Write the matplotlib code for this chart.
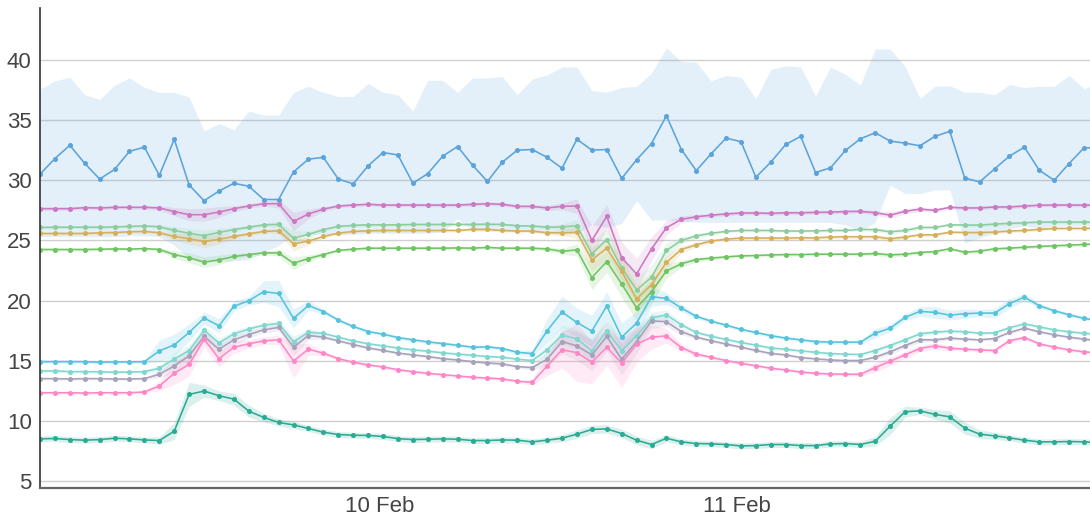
import numpy as np
import pandas as pd
import matplotlib
matplotlib.use("Agg")
import matplotlib.pyplot as plt
import matplotlib.dates as mdates

plt.rcParams['font.family'] = ['Liberation Sans', 'DejaVu Sans']

# hourly timestamps
times = pd.date_range("2024-02-09 01:15", periods=72, freq="h")

blue = [30.5, 31.8, 32.9, 31.4, 30.1, 30.9, 32.4, 32.75, 30.4, 33.4,
        29.6, 28.3, 29.1, 29.75, 29.5, 28.4, 28.4, 30.7, 31.75, 31.9,
        30.1, 29.7, 31.2, 32.3, 32.1, 29.75, 30.55, 32.0, 32.8, 31.25,
        29.9, 31.5, 32.5, 32.55, 31.9, 31.0, 33.4, 32.5, 32.55, 30.15,
        31.7, 33.05, 35.35, 32.55, 30.8, 32.2, 33.5, 33.2, 30.25, 31.5,
        32.97, 33.64, 30.64, 31.03, 32.47, 33.44, 33.94, 33.25, 33.08, 32.86,
        33.64, 34.06, 30.19, 29.86, 30.94, 32.0, 32.75, 30.83, 30.0, 31.39,
        32.69, 32.7]
blue_hi = [37.6, 38.25, 38.55, 37.1, 36.7, 37.9, 38.5, 37.7, 37.3, 37.3,
           36.9, 34.1, 34.7, 34.2, 35.75, 35.4, 35.4, 37.3, 37.8, 37.3,
           36.95, 36.95, 38.05, 37.3, 37.1, 35.75, 38.3, 38.3, 37.3, 38.5,
           38.5, 38.6, 37.1, 38.4, 38.75, 39.4, 39.4, 37.45, 37.3, 37.7,
           37.8, 38.9, 41.0, 39.85, 39.8, 38.25, 38.7, 38.55, 36.75, 39.2,
           39.5, 39.4, 37.0, 39.4, 38.8, 37.9, 40.9, 40.9, 39.45, 36.8,
           37.8, 37.85, 37.3, 37.3, 37.1, 37.95, 37.7, 37.8, 37.8, 38.7,
           37.6, 38.05]
blue_lo = [25.3, 25.3, 25.3, 25.3, 25.3, 25.3, 25.4, 25.4, 25.3, 24.6,
           23.5, 23.2, 23.3, 23.3, 23.4, 24.0, 24.6, 25.4, 25.5, 25.5,
           25.5, 25.5, 25.6, 25.6, 25.6, 25.6, 25.6, 25.7, 26.8, 25.8,
           25.8, 25.8, 25.8, 25.7, 25.6, 25.5, 25.6, 26.3, 26.1, 26.4,
           28.3, 26.7, 26.7, 26.6, 26.5, 26.5, 26.5, 26.5, 26.5, 26.5,
           26.5, 26.5, 26.5, 26.5, 26.3, 25.8, 26.5, 29.6, 28.9, 28.9,
           29.2, 29.2, 24.8, 25.2, 25.6, 26.0, 26.2, 26.0, 26.2, 26.2,
           26.2, 26.2]

magenta = [27.64, 27.64, 27.64, 27.72, 27.7, 27.75, 27.75, 27.75, 27.7, 27.4,
           27.14, 27.14, 27.36, 27.64, 27.86, 28.05, 28.05, 26.58, 27.2, 27.6,
           27.86, 27.94, 28.0, 27.94, 27.94, 27.94, 27.94, 27.94, 27.94, 28.0,
           28.05, 28.0, 27.83, 27.83, 27.7, 27.83, 27.86, 25.0, 27.0, 23.56,
           22.22, 24.3, 26.06, 26.75, 26.97, 27.1, 27.2, 27.28, 27.28, 27.25,
           27.3, 27.3, 27.33, 27.35, 27.4, 27.42, 27.3, 27.1, 27.42, 27.6,
           27.5, 27.75, 27.7, 27.7, 27.78, 27.78, 27.86, 27.92, 27.94, 27.94,
           27.94, 27.94]
magenta_sp = [0.15, 0.15, 0.15, 0.15, 0.15, 0.15, 0.15, 0.15, 0.2, 0.35,
              0.5, 0.55, 0.45, 0.25, 0.2, 0.2, 0.35, 0.8, 0.4, 0.2,
              0.15, 0.15, 0.15, 0.15, 0.15, 0.15, 0.15, 0.15, 0.15, 0.15,
              0.15, 0.15, 0.15, 0.15, 0.2, 0.3, 0.6, 1.2, 1.0, 1.3,
              1.3, 1.0, 0.6, 0.3, 0.2, 0.15, 0.15, 0.15, 0.15, 0.15,
              0.15, 0.15, 0.15, 0.15, 0.15, 0.15, 0.2, 0.25, 0.2, 0.2,
              0.15, 0.15, 0.15, 0.15, 0.15, 0.15, 0.15, 0.15, 0.15, 0.15,
              0.15, 0.15]

lgreen = [26.08, 26.1, 26.1, 26.1, 26.1, 26.12, 26.17, 26.2, 26.14, 25.83,
          25.6, 25.4, 25.67, 25.9, 26.1, 26.3, 26.33, 25.2, 25.5, 25.9,
          26.17, 26.25, 26.3, 26.3, 26.3, 26.33, 26.33, 26.33, 26.33, 26.33,
          26.35, 26.33, 26.22, 26.2, 26.1, 26.12, 26.22, 23.89, 25.08, 22.72,
          20.89, 21.94, 24.17, 25.0, 25.38, 25.6, 25.75, 25.83, 25.83, 25.83,
          25.78, 25.78, 25.8, 25.83, 25.83, 25.92, 25.9, 25.72, 25.83, 26.08,
          26.08, 26.3, 26.28, 26.28, 26.36, 26.42, 26.47, 26.53, 26.53, 26.53,
          26.53, 26.53]
lgreen_sp = [0.12, 0.12, 0.12, 0.12, 0.12, 0.12, 0.12, 0.12, 0.15, 0.3,
             0.4, 0.45, 0.35, 0.2, 0.15, 0.15, 0.25, 0.6, 0.3, 0.15,
             0.12, 0.12, 0.12, 0.12, 0.12, 0.12, 0.12, 0.12, 0.12, 0.12,
             0.12, 0.12, 0.12, 0.12, 0.15, 0.25, 0.5, 1.0, 0.9, 1.1,
             1.1, 1.0, 0.6, 0.3, 0.2, 0.15, 0.12, 0.12, 0.12, 0.12,
             0.12, 0.12, 0.12, 0.12, 0.12, 0.12, 0.15, 0.2, 0.15, 0.15,
             0.12, 0.12, 0.12, 0.12, 0.12, 0.12, 0.12, 0.12, 0.12, 0.12,
             0.12, 0.12]

tan = [25.58, 25.58, 25.58, 25.58, 25.64, 25.66, 25.72, 25.75, 25.64, 25.33,
       25.14, 24.9, 25.1, 25.33, 25.55, 25.75, 25.8, 24.72, 24.94, 25.33,
       25.61, 25.75, 25.8, 25.83, 25.83, 25.83, 25.83, 25.83, 25.83, 25.92,
       25.92, 25.83, 25.78, 25.78, 25.64, 25.64, 25.67, 23.39, 24.36, 22.44,
       20.14, 21.33, 23.19, 24.25, 24.64, 24.95, 25.11, 25.2, 25.2, 25.2,
       25.2, 25.22, 25.22, 25.28, 25.31, 25.31, 25.31, 25.14, 25.28, 25.47,
       25.47, 25.69, 25.66, 25.66, 25.69, 25.78, 25.83, 25.92, 26.0, 26.0,
       26.0, 26.03]
tan_sp = [0.12, 0.12, 0.12, 0.12, 0.12, 0.12, 0.12, 0.12, 0.15, 0.3,
          0.45, 0.5, 0.4, 0.2, 0.15, 0.15, 0.25, 0.6, 0.3, 0.15,
          0.12, 0.12, 0.12, 0.12, 0.12, 0.12, 0.12, 0.12, 0.12, 0.12,
          0.12, 0.12, 0.12, 0.12, 0.15, 0.25, 0.5, 1.0, 0.9, 1.1,
          1.1, 1.0, 0.6, 0.3, 0.2, 0.15, 0.12, 0.12, 0.12, 0.12,
          0.12, 0.12, 0.12, 0.12, 0.12, 0.12, 0.15, 0.2, 0.15, 0.15,
          0.12, 0.12, 0.12, 0.12, 0.12, 0.12, 0.12, 0.12, 0.12, 0.12,
          0.12, 0.12]

green = [24.25, 24.25, 24.25, 24.25, 24.27, 24.3, 24.28, 24.33, 24.25, 23.83,
         23.56, 23.2, 23.39, 23.67, 23.83, 23.97, 23.97, 23.11, 23.5, 23.83,
         24.17, 24.28, 24.36, 24.36, 24.36, 24.36, 24.36, 24.36, 24.38, 24.36,
         24.42, 24.36, 24.36, 24.36, 24.3, 24.1, 24.22, 21.92, 23.25, 21.39,
         19.42, 20.75, 22.47, 23.06, 23.42, 23.53, 23.64, 23.72, 23.75, 23.8,
         23.83, 23.83, 23.86, 23.86, 23.86, 23.86, 23.92, 23.8, 23.86, 24.0,
         24.08, 24.31, 24.03, 24.11, 24.31, 24.36, 24.44, 24.5, 24.56, 24.61,
         24.67, 24.72]
green_sp = [0.12, 0.12, 0.12, 0.12, 0.12, 0.12, 0.12, 0.12, 0.15, 0.3,
            0.4, 0.45, 0.4, 0.25, 0.15, 0.15, 0.25, 0.5, 0.3, 0.15,
            0.12, 0.12, 0.12, 0.12, 0.12, 0.12, 0.12, 0.12, 0.12, 0.12,
            0.12, 0.12, 0.12, 0.12, 0.15, 0.25, 0.5, 1.0, 0.9, 1.1,
            1.1, 1.0, 0.6, 0.3, 0.2, 0.15, 0.12, 0.12, 0.12, 0.12,
            0.12, 0.12, 0.12, 0.12, 0.12, 0.12, 0.15, 0.2, 0.15, 0.15,
            0.12, 0.15, 0.12, 0.12, 0.12, 0.12, 0.12, 0.12, 0.12, 0.12,
            0.12, 0.12]

cyan = [14.94, 14.94, 14.94, 14.94, 14.89, 14.92, 14.92, 14.94, 15.83, 16.33,
        17.36, 18.56, 17.92, 19.53, 20.0, 20.75, 20.6, 18.53, 19.61, 19.1,
        18.39, 17.86, 17.44, 17.22, 16.94, 16.75, 16.58, 16.44, 16.3, 16.14,
        16.17, 16.03, 15.72, 15.61, 17.5, 19.06, 18.19, 17.47, 19.56, 16.97,
        18.14, 20.33, 20.19, 19.39, 18.7, 18.3, 17.97, 17.62, 17.36, 17.1,
        16.89, 16.75, 16.61, 16.56, 16.56, 16.56, 17.3, 17.72, 18.61, 19.11,
        19.03, 18.8, 18.92, 18.97, 18.97, 19.75, 20.3, 19.58, 19.17, 18.83,
        18.53, 18.36]
cyan_sp = [0.12, 0.12, 0.12, 0.12, 0.12, 0.12, 0.12, 0.12, 0.9, 0.9,
           0.7, 0.5, 0.6, 0.4, 0.35, 0.9, 1.1, 0.8, 0.4, 0.2,
           0.15, 0.15, 0.15, 0.15, 0.15, 0.15, 0.15, 0.15, 0.15, 0.15,
           0.15, 0.15, 0.15, 0.3, 1.0, 1.3, 1.2, 1.3, 1.2, 1.2,
           1.0, 0.8, 0.5, 0.3, 0.2, 0.15, 0.15, 0.15, 0.15, 0.15,
           0.15, 0.15, 0.15, 0.15, 0.15, 0.15, 0.4, 0.3, 0.3, 0.4,
           0.5, 0.4, 0.4, 0.3, 0.4, 0.4, 0.3, 0.2, 0.15, 0.15,
           0.15, 0.15]

aqua = [14.17, 14.17, 14.11, 14.11, 14.1, 14.06, 14.08, 14.11, 14.39, 15.17,
        15.86, 17.53, 16.5, 17.25, 17.64, 17.97, 18.11, 16.58, 17.39, 17.28,
        16.97, 16.67, 16.42, 16.25, 16.07, 15.92, 15.81, 15.67, 15.56, 15.47,
        15.36, 15.31, 15.14, 15.03, 15.92, 17.14, 16.83, 15.83, 17.5, 15.86,
        17.08, 18.56, 18.83, 18.0, 17.36, 17.05, 16.78, 16.53, 16.31, 16.07,
        15.97, 15.83, 15.72, 15.61, 15.56, 15.53, 15.86, 16.28, 16.75, 17.25,
        17.39, 17.47, 17.42, 17.3, 17.33, 17.75, 18.08, 17.83, 17.58, 17.42,
        17.3, 17.2]
aqua_sp = [0.1, 0.1, 0.1, 0.1, 0.1, 0.1, 0.1, 0.1, 0.3, 0.5,
           0.5, 0.4, 0.4, 0.3, 0.25, 0.2, 0.25, 0.5, 0.3, 0.15,
           0.12, 0.12, 0.12, 0.12, 0.12, 0.12, 0.12, 0.12, 0.12, 0.12,
           0.12, 0.12, 0.12, 0.2, 0.5, 0.8, 0.8, 1.0, 0.9, 1.0,
           0.8, 0.5, 0.4, 0.25, 0.15, 0.12, 0.12, 0.12, 0.12, 0.12,
           0.12, 0.12, 0.12, 0.12, 0.12, 0.12, 0.2, 0.2, 0.2, 0.2,
           0.15, 0.15, 0.12, 0.12, 0.12, 0.12, 0.12, 0.12, 0.12, 0.12,
           0.12, 0.12]

grey = [13.53, 13.53, 13.5, 13.53, 13.53, 13.5, 13.5, 13.53, 13.89, 14.58,
        15.42, 17.03, 15.97, 16.75, 17.19, 17.58, 17.78, 16.14, 17.11, 16.97,
        16.67, 16.36, 16.08, 15.87, 15.65, 15.5, 15.36, 15.19, 15.08, 14.94,
        14.83, 14.75, 14.53, 14.44, 15.14, 16.61, 16.25, 15.5, 17.03, 15.14,
        16.61, 18.33, 18.25, 17.44, 16.97, 16.68, 16.4, 16.14, 15.87, 15.62,
        15.5, 15.28, 15.17, 15.08, 15.03, 15.03, 15.31, 15.75, 16.28, 16.75,
        16.75, 16.89, 16.81, 16.75, 16.86, 17.36, 17.72, 17.42, 17.17, 16.97,
        16.81, 16.69]
grey_sp = [0.1, 0.1, 0.1, 0.1, 0.1, 0.1, 0.1, 0.1, 0.3, 0.6,
           0.7, 0.5, 0.6, 0.4, 0.3, 0.25, 0.3, 0.7, 0.35, 0.15,
           0.12, 0.12, 0.12, 0.12, 0.12, 0.12, 0.12, 0.12, 0.12, 0.12,
           0.12, 0.12, 0.12, 0.2, 0.6, 1.0, 1.2, 1.3, 1.2, 1.3,
           1.0, 0.6, 0.4, 0.25, 0.15, 0.12, 0.12, 0.12, 0.12, 0.12,
           0.12, 0.12, 0.12, 0.12, 0.12, 0.12, 0.2, 0.25, 0.2, 0.2,
           0.15, 0.15, 0.12, 0.12, 0.12, 0.12, 0.12, 0.12, 0.12, 0.12,
           0.12, 0.12]

pink = [12.36, 12.36, 12.36, 12.33, 12.36, 12.36, 12.36, 12.42, 12.92, 13.97,
        14.72, 16.81, 15.19, 16.14, 16.42, 16.67, 16.75, 15.0, 15.97, 15.64,
        15.19, 14.89, 14.67, 14.5, 14.27, 14.11, 13.97, 13.86, 13.75, 13.64,
        13.58, 13.5, 13.31, 13.22, 14.58, 15.92, 15.69, 14.89, 16.14, 14.81,
        16.39, 16.97, 17.08, 16.11, 15.56, 15.3, 15.03, 14.8, 14.6, 14.39,
        14.25, 14.08, 13.97, 13.92, 13.89, 13.89, 14.44, 14.97, 15.5, 16.03,
        16.25, 16.06, 15.97, 15.92, 15.86, 16.67, 16.94, 16.42, 16.14, 15.92,
        15.75, 15.67]
pink_sp = [0.1, 0.1, 0.1, 0.1, 0.1, 0.1, 0.1, 0.1, 0.4, 0.9,
           1.0, 0.6, 0.7, 0.5, 0.35, 0.3, 0.4, 1.4, 0.5, 0.2,
           0.12, 0.12, 0.12, 0.12, 0.12, 0.12, 0.12, 0.12, 0.12, 0.12,
           0.12, 0.12, 0.12, 0.25, 0.8, 1.5, 2.4, 1.8, 1.5, 2.0,
           1.5, 1.0, 0.6, 0.3, 0.2, 0.12, 0.12, 0.12, 0.12, 0.12,
           0.12, 0.12, 0.12, 0.12, 0.12, 0.12, 0.4, 0.35, 0.3, 0.25,
           0.3, 0.2, 0.15, 0.15, 0.15, 0.2, 0.15, 0.12, 0.12, 0.12,
           0.12, 0.12]

teal = [8.53, 8.56, 8.47, 8.42, 8.47, 8.58, 8.53, 8.44, 8.39, 9.17,
        12.22, 12.5, 12.11, 11.83, 10.83, 10.31, 9.89, 9.69, 9.39, 9.08,
        8.89, 8.83, 8.81, 8.73, 8.55, 8.47, 8.5, 8.53, 8.5, 8.39,
        8.39, 8.44, 8.42, 8.28, 8.42, 8.58, 8.92, 9.31, 9.36, 8.97,
        8.42, 8.06, 8.58, 8.28, 8.14, 8.12, 8.06, 7.94, 7.97, 8.06,
        8.06, 7.97, 7.97, 8.11, 8.14, 8.06, 8.33, 9.58, 10.78, 10.86,
        10.56, 10.36, 9.42, 8.92, 8.78, 8.61, 8.42, 8.28, 8.28, 8.31,
        8.28, 8.22]
teal_sp = [0.25, 0.25, 0.25, 0.25, 0.25, 0.25, 0.25, 0.25, 0.3, 0.7,
           1.0, 0.5, 0.4, 0.5, 0.5, 0.35, 0.3, 0.3, 0.25, 0.25,
           0.25, 0.25, 0.25, 0.25, 0.25, 0.25, 0.25, 0.25, 0.25, 0.25,
           0.25, 0.25, 0.25, 0.25, 0.25, 0.3, 0.35, 0.35, 0.35, 0.35,
           0.35, 0.35, 0.3, 0.25, 0.25, 0.25, 0.25, 0.25, 0.25, 0.25,
           0.25, 0.25, 0.25, 0.25, 0.25, 0.25, 0.4, 0.7, 0.45, 0.3,
           0.4, 0.5, 0.5, 0.35, 0.3, 0.25, 0.25, 0.25, 0.25, 0.25,
           0.25, 0.25]

series = [
    (magenta, magenta_sp, '#cc78c2'),
    (lgreen, lgreen_sp, '#8ccd9f'),
    (tan, tan_sp, '#d5b05a'),
    (green, green_sp, '#6fc463'),
    (cyan, cyan_sp, '#56c3dc'),
    (aqua, aqua_sp, '#7fd7cf'),
    (grey, grey_sp, '#a7a1bb'),
    (pink, pink_sp, '#ff86c6'),
    (teal, teal_sp, '#2aab93'),
]

fig = plt.figure(figsize=(10.9, 5.2), dpi=100)
ax = fig.add_axes([40 / 1090, 1 - 488 / 520, 1 - 40 / 1090, 480 / 520])

blue_c = '#5ba3dc'
ax.fill_between(times, blue_lo, blue_hi, color=blue_c, alpha=0.16, lw=0)
for vals, sp, c in series:
    v = np.array(vals)
    s = np.array(sp)
    ax.fill_between(times, v - s, v + s, color=c, alpha=0.17, lw=0)

ax.plot(times, blue, color=blue_c, lw=1.15, marker='o', ms=2.6)
for vals, sp, c in series:
    ax.plot(times, vals, color=c, lw=1.15, marker='o', ms=2.6)

ax.set_ylim(4.45, 44.3)
ax.set_xlim(times[0], times[0] + pd.Timedelta(hours=70.4))
ax.set_yticks([5, 10, 15, 20, 25, 30, 35, 40])
ax.xaxis.set_major_locator(mdates.DayLocator())
ax.xaxis.set_major_formatter(mdates.DateFormatter('%d %b'))

ax.grid(axis='y', color='#d0d0d0', lw=1)
ax.set_axisbelow(True)
ax.spines['top'].set_visible(False)
ax.spines['right'].set_visible(False)
ax.spines['left'].set_color('#333333')
ax.spines['left'].set_linewidth(1.2)
ax.spines['bottom'].set_color('#666666')
ax.spines['bottom'].set_linewidth(1.6)
ax.tick_params(length=0, labelsize=16, colors='#444444')
ax.tick_params(axis='y', pad=6)
ax.tick_params(axis='x', pad=6)

fig.savefig('out.png', dpi=100)
